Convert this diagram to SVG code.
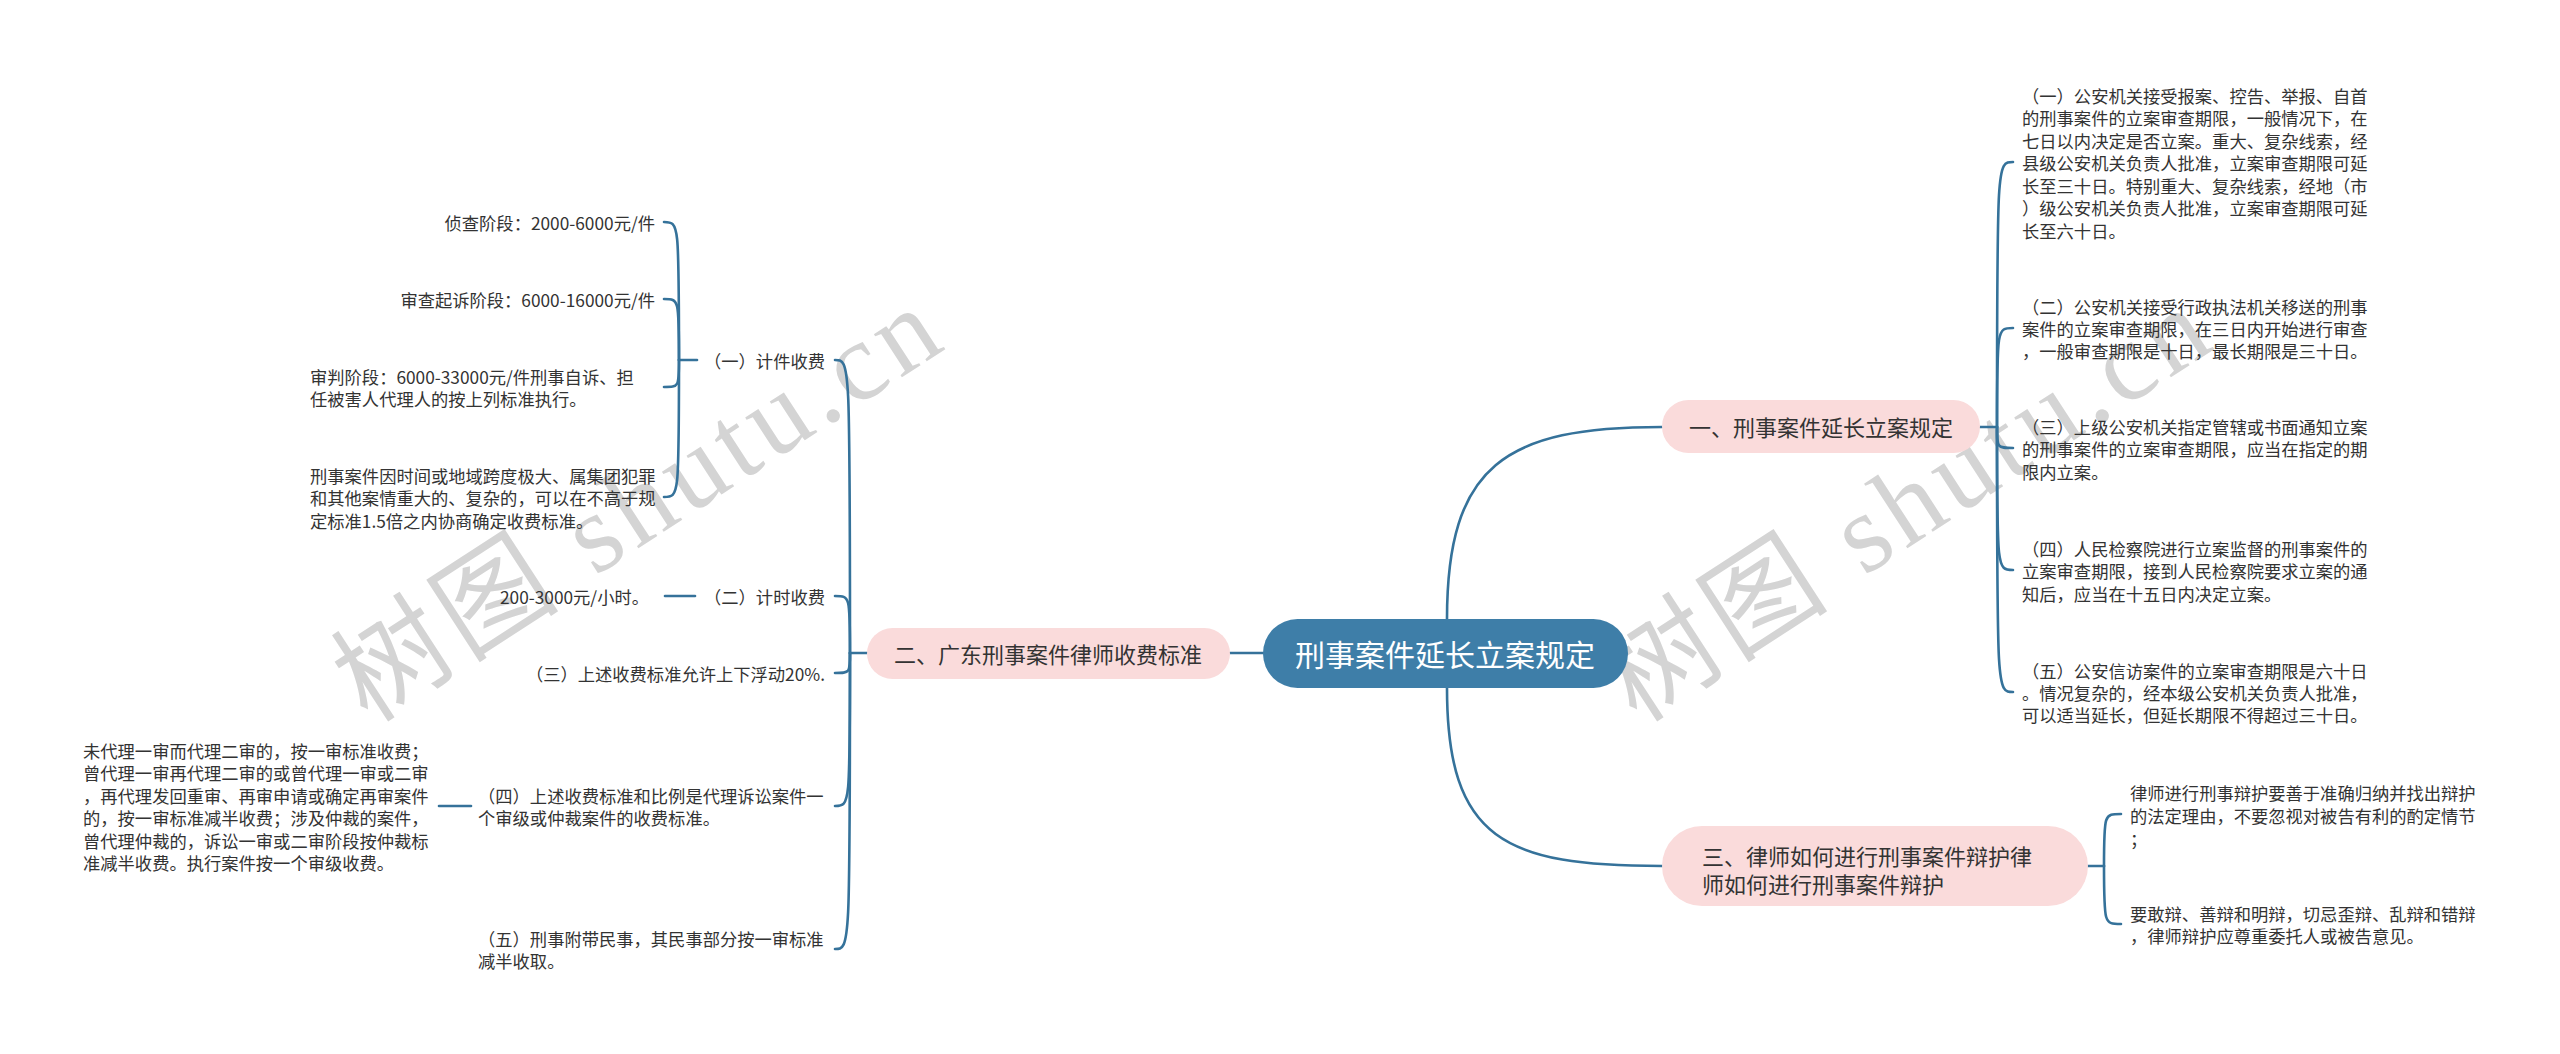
<svg xmlns="http://www.w3.org/2000/svg" width="2560" height="1054" viewBox="0 0 2560 1054">
<style>
.wm{font-family:"Liberation Serif","Noto Sans CJK SC",serif;font-size:112px;fill:#d4d4d4;}
.ln{fill:none;stroke:#35729a;stroke-width:2.6;stroke-linecap:round;}
.t{font-family:"Noto Sans CJK SC","Noto Sans",sans-serif;font-size:17.3px;fill:#333;dominant-baseline:central;}
.e{text-anchor:end;}
.nt{font-family:"Noto Sans CJK SC","Noto Sans",sans-serif;font-size:22px;fill:#333;dominant-baseline:central;}
.pk{fill:#fadbdb;}
</style>
<rect width="2560" height="1054" fill="#ffffff"/>
<g id="watermarks">
<text class="wm" x="368" y="724" transform="rotate(-33 368 724)" textLength="690" lengthAdjust="spacing">树图 shutu.cn</text>
<text class="wm" x="1637" y="724" transform="rotate(-33 1637 724)" textLength="690" lengthAdjust="spacing">树图 shutu.cn</text>
</g>
<g id="connectors">
<path class="ln" d="M1447,619 C1447,465 1505,427 1662,427"/>
<path class="ln" d="M1447,688 C1447,840 1505,866 1662,866"/>
<path class="ln" d="M1263,653 H1230"/>
<path class="ln" d="M1980,427 H1997"/>
<path class="ln" d="M1997,427 C1997,162 1997,162 2013,162"/>
<path class="ln" d="M1997,427 C1997,328 1997,328 2013,328"/>
<path class="ln" d="M1997,427 C1997,448 1997,448 2013,448"/>
<path class="ln" d="M1997,427 C1997,570 1997,570 2013,570"/>
<path class="ln" d="M1997,427 C1997,692 1997,692 2013,692"/>
<path class="ln" d="M2088,866 H2104"/>
<path class="ln" d="M2104,866 C2104,814 2104,814 2121,814"/>
<path class="ln" d="M2104,866 C2104,924 2104,924 2121,924"/>
<path class="ln" d="M867,653 H850"/>
<path class="ln" d="M850,653 C850,360 850,360 835,360"/>
<path class="ln" d="M850,653 C850,596 850,596 835,596"/>
<path class="ln" d="M850,653 C850,673 850,673 835,673"/>
<path class="ln" d="M850,653 C850,806 850,806 835,806"/>
<path class="ln" d="M850,653 C850,949 850,949 835,949"/>
<path class="ln" d="M697,360 H679"/>
<path class="ln" d="M679,360 C679,222 679,222 664,222"/>
<path class="ln" d="M679,360 C679,299 679,299 664,299"/>
<path class="ln" d="M679,360 C679,387 679,387 664,387"/>
<path class="ln" d="M679,360 C679,497 679,497 664,497"/>
<path class="ln" d="M695,596 H665"/>
<path class="ln" d="M471,806 H439"/>
</g>
<g id="root">
<rect x="1263" y="619" width="365" height="69" rx="34.5" fill="#3e7ea8"/>
<text x="1445" y="653" text-anchor="middle" dominant-baseline="central" font-family="Noto Sans CJK SC, Noto Sans, sans-serif" font-size="30" fill="#ffffff">刑事案件延长立案规定</text>
</g>
<g id="n1">
<rect class="pk" x="1662" y="400" width="318" height="53" rx="26.5"/>
<text class="nt" x="1821" y="426" text-anchor="middle">一、刑事案件延长立案规定</text>
</g>
<g id="n2">
<rect class="pk" x="867" y="628" width="363" height="51" rx="25.5"/>
<text class="nt" x="1048" y="653" text-anchor="middle">二、广东刑事案件律师收费标准</text>
</g>
<g id="n3">
<rect class="pk" x="1662" y="826" width="426" height="80" rx="40"/>
<text class="nt" x="1702" y="855">三、律师如何进行刑事案件辩护律</text>
<text class="nt" x="1702" y="883">师如何进行刑事案件辩护</text>
</g>
<g id="n1-1">
<text class="t" x="2022" y="95">（一）公安机关接受报案、控告、举报、自首</text>
<text class="t" x="2022" y="117">的刑事案件的立案审查期限，一般情况下，在</text>
<text class="t" x="2022" y="140">七日以内决定是否立案。重大、复杂线索，经</text>
<text class="t" x="2022" y="162">县级公安机关负责人批准，立案审查期限可延</text>
<text class="t" x="2022" y="185">长至三十日。特别重大、复杂线索，经地（市</text>
<text class="t" x="2022" y="207">）级公安机关负责人批准，立案审查期限可延</text>
<text class="t" x="2022" y="230">长至六十日。</text>
</g>
<g id="n1-2">
<text class="t" x="2022" y="306">（二）公安机关接受行政执法机关移送的刑事</text>
<text class="t" x="2022" y="328">案件的立案审查期限，在三日内开始进行审查</text>
<text class="t" x="2022" y="350">，一般审查期限是十日，最长期限是三十日。</text>
</g>
<g id="n1-3">
<text class="t" x="2022" y="426">（三）上级公安机关指定管辖或书面通知立案</text>
<text class="t" x="2022" y="448">的刑事案件的立案审查期限，应当在指定的期</text>
<text class="t" x="2022" y="471">限内立案。</text>
</g>
<g id="n1-4">
<text class="t" x="2022" y="548">（四）人民检察院进行立案监督的刑事案件的</text>
<text class="t" x="2022" y="570">立案审查期限，接到人民检察院要求立案的通</text>
<text class="t" x="2022" y="593">知后，应当在十五日内决定立案。</text>
</g>
<g id="n1-5">
<text class="t" x="2022" y="670">（五）公安信访案件的立案审查期限是六十日</text>
<text class="t" x="2022" y="692">。情况复杂的，经本级公安机关负责人批准，</text>
<text class="t" x="2022" y="714">可以适当延长，但延长期限不得超过三十日。</text>
</g>
<g id="n3-1">
<text class="t" x="2130" y="792">律师进行刑事辩护要善于准确归纳并找出辩护</text>
<text class="t" x="2130" y="815">的法定理由，不要忽视对被告有利的酌定情节</text>
<text class="t" x="2130" y="838">；</text>
</g>
<g id="n3-2">
<text class="t" x="2130" y="913">要敢辩、善辩和明辩，切忌歪辩、乱辩和错辩</text>
<text class="t" x="2130" y="935">，律师辩护应尊重委托人或被告意见。</text>
</g>
<g id="n2-1">
<text class="t e" x="825" y="360">（一）计件收费</text>
</g>
<g id="n2-1-1">
<text class="t e" x="655" y="222">侦查阶段：2000-6000元/件</text>
</g>
<g id="n2-1-2">
<text class="t e" x="655" y="299">审查起诉阶段：6000-16000元/件</text>
</g>
<g id="n2-1-3">
<text class="t" x="310" y="376">审判阶段：6000-33000元/件刑事自诉、担</text>
<text class="t" x="310" y="398">任被害人代理人的按上列标准执行。</text>
</g>
<g id="n2-1-4">
<text class="t" x="310" y="475">刑事案件因时间或地域跨度极大、属集团犯罪</text>
<text class="t" x="310" y="497">和其他案情重大的、复杂的，可以在不高于规</text>
<text class="t" x="310" y="520">定标准1.5倍之内协商确定收费标准。</text>
</g>
<g id="n2-2">
<text class="t e" x="825" y="596">（二）计时收费</text>
</g>
<g id="n2-2-1">
<text class="t e" x="649" y="596">200-3000元/小时。</text>
</g>
<g id="n2-3">
<text class="t e" x="825" y="673">（三）上述收费标准允许上下浮动20%.</text>
</g>
<g id="n2-4">
<text class="t" x="478" y="795">（四）上述收费标准和比例是代理诉讼案件一</text>
<text class="t" x="478" y="817">个审级或仲裁案件的收费标准。</text>
</g>
<g id="n2-4-1">
<text class="t" x="83" y="750">未代理一审而代理二审的，按一审标准收费；</text>
<text class="t" x="83" y="772">曾代理一审再代理二审的或曾代理一审或二审</text>
<text class="t" x="83" y="795">，再代理发回重审、再审申请或确定再审案件</text>
<text class="t" x="83" y="817">的，按一审标准减半收费；涉及仲裁的案件，</text>
<text class="t" x="83" y="840">曾代理仲裁的，诉讼一审或二审阶段按仲裁标</text>
<text class="t" x="83" y="862">准减半收费。执行案件按一个审级收费。</text>
</g>
<g id="n2-5">
<text class="t" x="478" y="938">（五）刑事附带民事，其民事部分按一审标准</text>
<text class="t" x="478" y="960">减半收取。</text>
</g>
</svg>
